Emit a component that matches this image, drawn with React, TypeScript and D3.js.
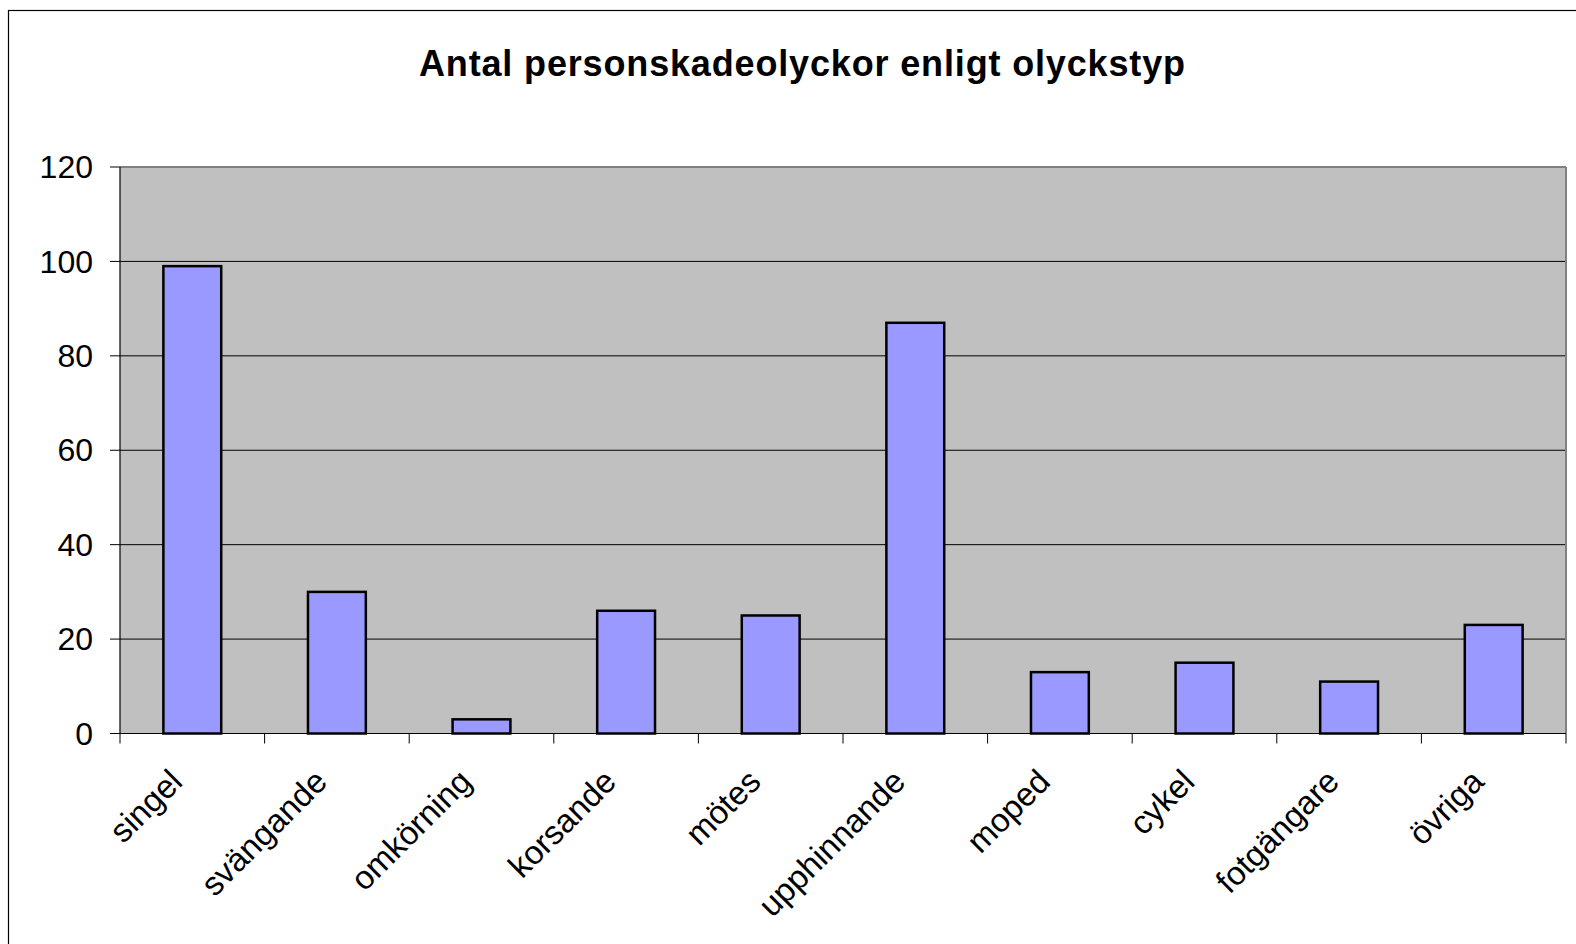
import React from "react";
import * as d3 from "d3";

const categories = ["singel", "svängande", "omkörning", "korsande", "mötes", "upphinnande", "moped", "cykel", "fotgängare", "övriga"];
const values = [99, 30, 3, 26, 25, 87, 13, 15, 11, 23];
const yTicks = [0, 20, 40, 60, 80, 100, 120];
const title = "Antal personskadeolyckor enligt olyckstyp";

const W = 1576;
const H = 944;
const left = 120;
const right = 1566;
const top = 167;
const bottom = 733.5;
const font = "'Liberation Sans', Arial, sans-serif";

export default function App() {
  const x = d3.scaleBand<string>().domain(categories).range([left, right]).paddingInner(0).paddingOuter(0);
  const y = d3.scaleLinear().domain([0, 120]).range([bottom, top]);
  const bw = x.bandwidth() / 2.5;
  const boundaries = d3.range(categories.length + 1).map((i) => left + i * x.step());

  return (
    <div style={{ position: "absolute", left: 0, top: 0 }}>
      <svg width={W} height={H} style={{ display: "block" }}>
        <rect x={0} y={0} width={W} height={H} fill="#ffffff" />
        <rect x={8.5} y={10.5} width={W + 20} height={H + 20} fill="#ffffff" stroke="#000" strokeWidth={1.2} />
        <text
          x={802}
          y={76}
          textAnchor="middle"
          fontFamily={font}
          fontWeight="bold"
          fontSize={36}
          textLength={766}
          lengthAdjust="spacing"
          fill="#000"
        >
          {title}
        </text>
        <rect x={left} y={top} width={right - left} height={bottom - top} fill="#c0c0c0" />
        {yTicks.filter((t) => t > 0 && t < 120).map((t) => (
          <line key={t} x1={left} x2={right} y1={y(t)} y2={y(t)} stroke="#000" strokeWidth={1} />
        ))}
        <line x1={left} x2={right} y1={top} y2={top} stroke="#808080" strokeWidth={2} />
        <line x1={right} x2={right} y1={top} y2={bottom} stroke="#808080" strokeWidth={2} />
        {categories.map((c, i) => (
          <rect
            key={c}
            x={x(c)! + (x.bandwidth() - bw) / 2}
            y={y(values[i])}
            width={bw}
            height={bottom - y(values[i])}
            fill="#9999ff"
            stroke="#000"
            strokeWidth={2.5}
          />
        ))}
        <line x1={left} x2={left} y1={top} y2={bottom} stroke="#000" strokeWidth={1.2} />
        <line x1={left} x2={right} y1={bottom} y2={bottom} stroke="#000" strokeWidth={1.2} />
        {yTicks.map((t) => (
          <g key={t}>
            <line x1={110} x2={left} y1={y(t)} y2={y(t)} stroke="#000" strokeWidth={1} />
            <text x={93} y={y(t)} dy="0.35em" textAnchor="end" fontFamily={font} fontSize={32} fill="#000">
              {t}
            </text>
          </g>
        ))}
        {boundaries.map((b, i) => (
          <line key={i} x1={b} x2={b} y1={bottom} y2={bottom + 10} stroke="#000" strokeWidth={1} />
        ))}
        {categories.map((c) => {
          const cx = x(c)! + x.bandwidth() / 2 - 8;
          const cy = bottom + 50;
          return (
            <text
              key={c}
              x={cx}
              y={cy}
              textAnchor="end"
              transform={`rotate(-45 ${cx} ${cy})`}
              fontFamily={font}
              fontSize={33}
              fill="#000"
            >
              {c}
            </text>
          );
        })}
      </svg>
    </div>
  );
}
